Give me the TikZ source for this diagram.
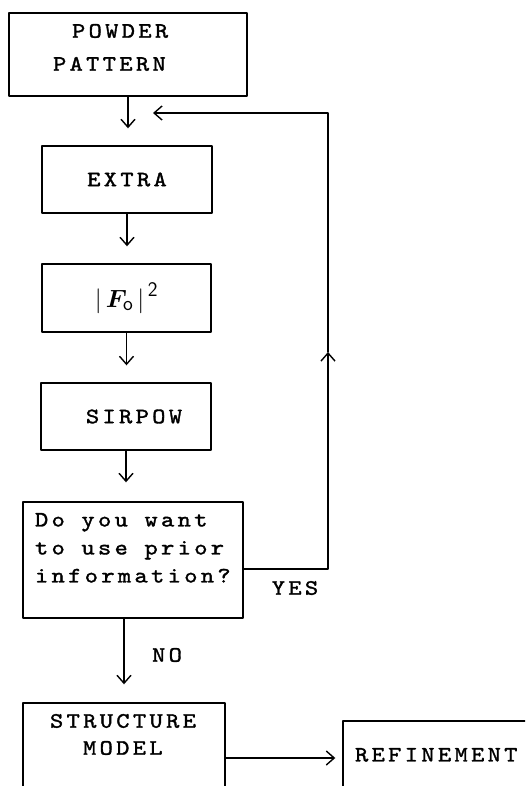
\documentclass[tikz,border=0pt]{standalone}
\usepackage{fontspec}
\usepackage{bm}
\usetikzlibrary{arrows.meta}
\newfontfamily\flowtt{lmmono10-regular}[Extension=.otf, FakeStretch=1.15, FakeBold=1.5, LetterSpace=15]

\begin{document}
\begin{tikzpicture}[x=1pt, y=-1pt, line join=round, line cap=round,
	font=\flowtt\fontsize{22}{28}\selectfont,
	box/.style={draw, line width=1.4pt, inner sep=0pt},
	arr/.style={line width=1.4pt, -{Straight Barb[length=8pt, width=14pt]}},
	tag/.style={inner sep=0pt}]
	\useasboundingbox (0,0) rectangle (525,786);
	\clip (0,0) rectangle (525,786);
	\node[box] (powder) at (128,54.5) {\parbox[c][83pt][t]{238pt}{\fontsize{22}{33}\selectfont\raggedright
		\vspace*{11pt}\hspace*{63pt}POWDER\\\hspace*{44pt}PATTERN}};
	\node[box, minimum width=170pt, minimum height=67pt] (extra) at (127,179.5) {EXTRA};
	\node[box, minimum width=169pt, minimum height=68pt] (fo) at (126.5,298)
		{\fontsize{24.88}{30}\selectfont$\bigl|\,\bm{F}_{\mathsf{o}}\,\bigr|^{\,\mathsf{2}}$};
	\node[box, minimum width=170pt, minimum height=67pt] (sirpow) at (126,416.5) {\hspace*{16pt}SIRPOW};
	\node[box] (ask) at (133,560) {\parbox[c][116pt][t]{220pt}{\raggedright\leftskip=12pt
		\vspace*{11pt}Do you want\\to use prior\\information?}};
	\node[box] (struct) at (124,758) {\parbox[c][110pt][t]{202pt}{\fontsize{22}{27}\selectfont\raggedright
		\vspace*{11pt}\hspace*{27pt}STRUCTURE\\\hspace*{60pt}MODEL}};
	\node[box] (refine) at (453,776) {\parbox[c][110pt][t]{220pt}{\raggedright
		\vspace*{27pt}\hspace*{12pt}REFINEMENT}};
	\node[tag] (yes) at (295,588) {YES};
	\node[tag] (no) at (167,655) {NO};
	\coordinate (loopmid) at (328,352);
	\coordinate (back) at (153,113);
	\draw[arr, shorten >=17pt] (powder.south) -- (powder.south |- extra.north);
	\draw[arr, shorten >=17pt] (extra.south) -- (extra.south |- fo.north);
	\draw[arr, shorten >=17pt] (fo.south) -- (fo.south |- sirpow.north);
	\draw[arr, shorten >=19pt] (sirpow.south) -- (sirpow.south |- ask.north);
	\draw[arr, shorten >=18pt] (struct.north |- ask.south) -- (struct.north);
	\draw[arr, shorten >=7pt] (struct.east) -- (struct.east -| refine.west);
	\draw[arr] ([yshift=-9pt]ask.east) -| (loopmid);
	\draw[arr] (loopmid) |- (back);
\end{tikzpicture}
\end{document}
